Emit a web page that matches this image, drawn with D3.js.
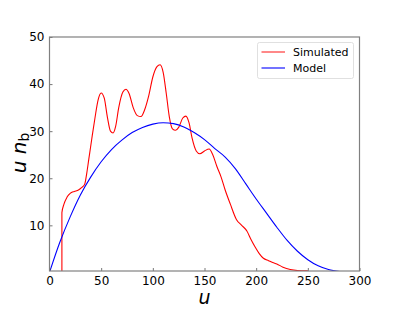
<!DOCTYPE html>
<html>
<head>
<meta charset="utf-8">
<script src="https://cdn.jsdelivr.net/npm/d3@7"></script>
<style>
  body { margin: 0; background: #fff; }
  text { font-family: "DejaVu Sans", sans-serif; }
</style>
</head>
<body>
<svg id="chart" width="399" height="310"></svg>
<script>
// Simulated curve (u, u*n_b)
const simU = [12, 12, 14, 17, 20, 24, 28, 31, 34, 36, 38, 41, 44, 47, 50, 53, 56, 59, 61.5, 64, 67, 71, 74, 77, 81, 85, 88.5,
  92, 96, 100, 104, 107, 110, 113, 116, 119, 122, 125, 129, 132, 135, 138, 142, 145.5, 150, 154.5, 158, 162, 166, 170,
  175, 181, 186, 191, 195, 199, 203, 207, 212, 216, 220, 226, 233, 240, 250];
const simV = [0, 12.7, 14.5, 16, 16.8, 17.2, 17.5, 18, 18.7, 21, 24, 28.5, 32.8, 36.6, 38.1, 37, 33, 30, 29.6, 31, 35, 38.3, 38.9, 38, 35, 33.3, 33.1,
  34.5, 37.5, 41.5, 43.7, 44.1, 42.5, 38, 33, 30.5, 30.2, 30.8, 32.8, 33.2, 31.8, 28.5, 25.8, 25.2, 25.8, 26.2, 25, 22.5, 20.3, 17.5,
  14.5, 11.2, 10, 8.8, 7, 5.4, 4, 3, 2.5, 2.1, 1.8, 1.1, 0.6, 0.4, 0.35];

// Model curve
const modU = [0, 10, 20, 30, 40, 50, 60, 70, 80, 90, 100, 110, 120, 130, 140, 150, 160, 170, 180, 190, 200, 210, 220, 230, 240, 250, 260, 270, 281];
const modV = [0, 6.4, 11.8, 16.5, 20.3, 23.5, 26.1, 28.1, 29.7, 30.8, 31.5, 31.8, 31.6, 30.9, 29.7, 28.2, 26.3, 24.5, 22, 18.8, 15.6, 12.6, 9.6, 6.8, 4.5, 2.7, 1.4, 0.6, 0.2];

const xTicks = [0, 50, 100, 150, 200, 250, 300];
const yTicks = [10, 20, 30, 40, 50];
const seriesNames = ["Simulated", "Model"];
const seriesColors = ["#ff0000", "#0000ff"];

const mLeft = 49.5, mRight = 359.5, mTop = 37, mBottom = 271;

const svg = d3.select("#chart");
const x = d3.scaleLinear().domain([0, 300]).range([mLeft, mRight]);
const y = d3.scaleLinear().domain([0.3, 50]).range([mBottom, mTop]);

svg.append("clipPath").attr("id", "clip")
  .append("rect").attr("x", mLeft).attr("y", mTop).attr("width", mRight - mLeft).attr("height", mBottom - mTop);

const line = d3.line().x(d => x(d[0])).y(d => y(d[1])).curve(d3.curveMonotoneX);

const plot = svg.append("g").attr("clip-path", "url(#clip)");

// red: vertical edge then the smooth part
plot.append("path")
  .attr("d", line(d3.zip(simU, simV)))
  .attr("fill", "none").attr("stroke", seriesColors[0]).attr("stroke-width", 1.1);

plot.append("path")
  .attr("d", line(d3.zip(modU, modV)))
  .attr("fill", "none").attr("stroke", seriesColors[1]).attr("stroke-width", 1.1);

// axes (ticks pointing inward)
const xAxis = svg.append("g").attr("transform", `translate(0,${mBottom})`)
  .call(d3.axisBottom(x).tickValues(xTicks).tickSizeInner(-3).tickSizeOuter(0).tickPadding(5));
const yAxis = svg.append("g").attr("transform", `translate(${mLeft},0)`)
  .call(d3.axisLeft(y).tickValues(yTicks).tickSizeInner(-3).tickSizeOuter(0).tickPadding(5));

[xAxis, yAxis].forEach(a => {
  a.select(".domain").remove();
  a.selectAll(".tick line").attr("stroke", "#555").attr("stroke-width", 0.8);
  a.selectAll(".tick text").attr("font-size", 12).attr("fill", "#000")
    .attr("font-family", "DejaVu Sans");
});

// frame
svg.append("rect")
  .attr("x", mLeft).attr("y", mTop).attr("width", mRight - mLeft).attr("height", mBottom - mTop)
  .attr("fill", "none").attr("stroke", "#808080").attr("stroke-width", 1.2);

// axis labels
svg.append("text")
  .attr("x", x(150)).attr("y", 304)
  .attr("text-anchor", "middle").attr("font-size", 19).attr("font-style", "italic")
  .text("u");

const yl = svg.append("text")
  .attr("transform", `translate(25.5,${(mTop + mBottom) / 2 - 1}) rotate(-90)`)
  .attr("text-anchor", "middle").attr("font-size", 20);
yl.append("tspan").attr("font-style", "italic").text("u n");
yl.append("tspan").attr("font-size", 14).attr("dy", 3).text("b");

// legend
const lg = svg.append("g");
lg.append("rect")
  .attr("x", 257.5).attr("y", 42.5).attr("width", 96).attr("height", 36).attr("rx", 2)
  .attr("fill", "#fff").attr("stroke", "#d8d8d8").attr("stroke-width", 0.8);
seriesNames.forEach((name, i) => {
  const ly = 52 + i * 16;
  lg.append("line")
    .attr("x1", 261.5).attr("x2", 285).attr("y1", ly).attr("y2", ly)
    .attr("stroke", seriesColors[i])
    .attr("stroke-width", i === 0 ? 1.1 : 2)
    .attr("stroke-opacity", i === 0 ? 0.85 : 0.55);
  lg.append("text")
    .attr("x", 293).attr("y", ly + 4)
    .attr("font-size", 11).attr("fill", "#000")
    .text(name);
});
</script>
</body>
</html>
